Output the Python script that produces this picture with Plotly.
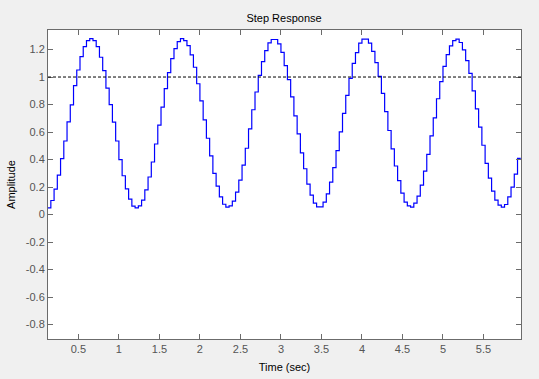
import plotly.graph_objects as go

# Sample period 0.04 s; first visible sample at 0.12 s
T0 = 0.12
TS = 0.04

amplitude = [
    0.049, 0.102, 0.185, 0.287, 0.406, 0.535, 0.674, 0.798, 0.937, 1.051,
    1.148, 1.221, 1.265, 1.280, 1.265, 1.221, 1.144, 1.046, 0.920, 0.800,
    0.672, 0.535, 0.399, 0.282, 0.187, 0.112, 0.061, 0.049, 0.063, 0.105,
    0.180, 0.273, 0.382, 0.513, 0.650, 0.781, 0.915, 1.032, 1.134, 1.207,
    1.258, 1.280, 1.265, 1.229, 1.161, 1.071, 0.951, 0.827, 0.689, 0.555,
    0.426, 0.299, 0.207, 0.129, 0.075, 0.054, 0.063, 0.097, 0.163, 0.251,
    0.360, 0.482, 0.623, 0.762, 0.891, 1.012, 1.112, 1.192, 1.248, 1.273,
    1.273, 1.241, 1.180, 1.083, 0.981, 0.856, 0.718, 0.586, 0.448, 0.333,
    0.221, 0.141, 0.083, 0.056, 0.056, 0.090, 0.151, 0.236, 0.341, 0.465,
    0.601, 0.735, 0.866, 0.990, 1.100, 1.178, 1.246, 1.275, 1.275, 1.246,
    1.187, 1.105, 1.005, 0.881, 0.749, 0.611, 0.477, 0.353, 0.246, 0.156,
    0.090, 0.063, 0.054, 0.083, 0.134, 0.214, 0.316, 0.438, 0.572, 0.703,
    0.842, 0.966, 1.078, 1.163, 1.226, 1.265, 1.275, 1.251, 1.197, 1.119,
    1.027, 0.900, 0.769, 0.635, 0.504, 0.372, 0.265, 0.170, 0.105, 0.068,
    0.054, 0.073, 0.129, 0.200, 0.294, 0.409, 0.409,
]
time = [round(T0 + i * TS, 4) for i in range(len(amplitude))]

steady_state = 1.0

x_tick_vals = [0.5, 1, 1.5, 2, 2.5, 3, 3.5, 4, 4.5, 5, 5.5]
x_tick_text = ["0.5", "1", "1.5", "2", "2.5", "3", "3.5", "4", "4.5", "5", "5.5"]
y_tick_vals = [-0.8, -0.6, -0.4, -0.2, 0, 0.2, 0.4, 0.6, 0.8, 1, 1.2]
y_tick_text = ["-0.8", "-0.6", "-0.4", "-0.2", "0", "0.2", "0.4", "0.6", "0.8", "1", "1.2"]

x_range = [0.125, 5.963]
y_range = [-0.905, 1.342]

FONT = "Liberation Sans, Arial, sans-serif"
AXIS_COLOR = "#6b6b6b"
TICK_FONT_COLOR = "#555555"

fig = go.Figure()
fig.add_trace(go.Scatter(
    x=time, y=amplitude, mode="lines", line_shape="hv",
    line=dict(color="#0000ff", width=1.2), showlegend=False, hoverinfo="skip",
))
fig.add_shape(type="line", xref="paper", yref="y", x0=0, x1=1,
              y0=steady_state, y1=steady_state,
              line=dict(color="black", width=1, dash="3px,2px"))

common_axis = dict(
    showgrid=False, zeroline=False, showline=True, linecolor=AXIS_COLOR,
    linewidth=1, mirror="ticks", ticks="inside", ticklen=5, tickwidth=1,
    tickcolor=AXIS_COLOR, tickfont=dict(family=FONT, size=11, color=TICK_FONT_COLOR),
)

fig.update_xaxes(range=x_range, tickmode="array", tickvals=x_tick_vals,
                 ticktext=x_tick_text,
                 title=dict(text="Time (sec)", font=dict(family=FONT, size=11, color="black"),
                            standoff=9),
                 **common_axis)
fig.update_yaxes(range=y_range, tickmode="array", tickvals=y_tick_vals,
                 ticktext=y_tick_text,
                 title=dict(text="Amplitude", font=dict(family=FONT, size=11, color="black"),
                            standoff=7),
                 **common_axis)

fig.update_layout(
    width=539, height=379,
    margin=dict(l=48, r=18, t=30, b=40, autoexpand=False),
    paper_bgcolor="#f0f0f0", plot_bgcolor="white",
    title=dict(text="Step Response", x=0.527, xanchor="center", y=0.953, yanchor="middle",
               font=dict(family=FONT, size=11, color="black")),
)

fig.write_html(
    "out.html",
    config={"displayModeBar": False, "staticPlot": True},
    post_script="document.body.style.margin='0';document.body.style.background='#f0f0f0';",
)
